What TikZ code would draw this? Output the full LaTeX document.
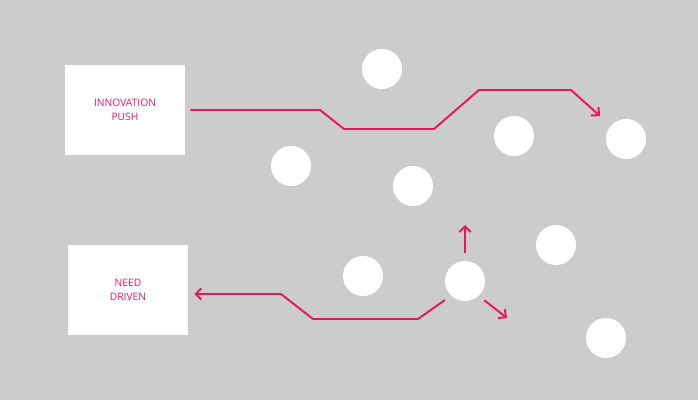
\documentclass[tikz,border=0pt]{standalone}
\usepackage{fontspec}
\setmainfont{Open Sans}
\usetikzlibrary{arrows.meta}
\definecolor{bggrey}{HTML}{CCCCCC}
\definecolor{hotpink}{HTML}{E8175D}
\begin{document}
\begin{tikzpicture}[x=0.025cm,y=-0.025cm]
	\fill[bggrey] (0,0) rectangle (698,400);
	
	\begin{scope}[every node/.style={fill=white,minimum width=3cm,minimum height=2.25cm,
			text=hotpink,font=\fontsize{7.3}{10}\selectfont,align=center}]
		\node (push) at (125,110) {INNOVATION\\PUSH};
		\node (need) at (128,290) {NEED\\DRIVEN};
	\end{scope}
	
	\begin{scope}[every node/.style={circle,fill=white,minimum size=1cm,inner sep=0pt}]
		\node (c1) at (382,69) {};
		\node (c2) at (291,166) {};
		\node (c3) at (413,186) {};
		\node (c4) at (514,136) {};
		\node (c5) at (626,139) {};
		\node (c6) at (556,245) {};
		\node (c7) at (363,276) {};
		\node (c8) at (465,281) {};
		\node (c9) at (606,338) {};
	\end{scope}
	
	\coordinate (pushend) at (600,116);
	\coordinate (needstart) at (445,300);
	\coordinate (upend) at (465,225);
	\coordinate (diagend) at (507,318);
	
	\begin{scope}[hotpink,line width=1.4pt,-{Straight Barb[length=4pt,width=8pt]}]
		\draw ([shift={(5,0)}]push.east) -- (320,110) -- (344,129) -- (434,129)
			-- (479,90) -- (571,90) -- (pushend);
		\draw (needstart) -- (418,319) -- (313,319) -- (281,294) -- ([shift={(6,4)}]need.east);
		\draw ([shift={(0,-8)}]c8.north) -- (upend);
		\draw ([shift={(5,5)}]c8.south east) -- (diagend);
	\end{scope}
\end{tikzpicture}
\end{document}
